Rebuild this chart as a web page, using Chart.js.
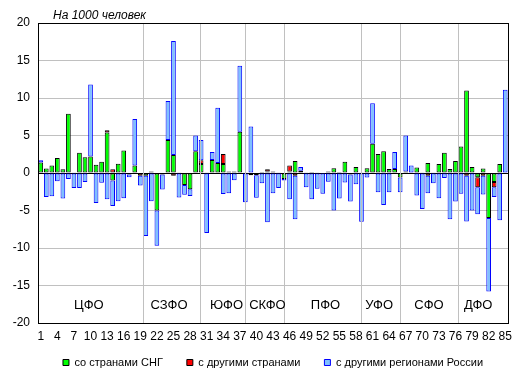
<!DOCTYPE html>
<html>
<head>
<meta charset="utf-8">
<script src="https://cdn.jsdelivr.net/npm/chart.js@4.4.0/dist/chart.umd.min.js"></script>
<style>
  html, body { margin: 0; padding: 0; background: #fff; }
</style>
</head>
<body>
<canvas id="migrChart" width="520" height="376"></canvas>
<script>
// Регионы 1..85 (номера по порядку)
const regions = Array.from({ length: 85 }, (_, i) => String(i + 1));

// Миграционный прирост на 1000 человек
const cisValues = [
  1.4, 0.6, 1.0, 2.0, 0.5, 7.9, 0.1, 2.7, 2.1, 2.2,
  1.1, 1.5, 5.4, -1.0, 1.25, 3.0, -0.2, 1.0, 0, -0.35,
  0.2, -5.0, -0.2, 4.4, 2.4, 0.1, -1.6, -2.15, 2.9, 1.2,
  0.1, 1.75, 1.35, 1.2, 0, 0.2, 5.5, 0.1, -0.3, -0.3,
  0.15, 0.2, 0.2, 0.1, -0.8, 0.2, 1.6, 0.3, 0.1, 0.15,
  0.1, 0, 0, 0.65, 0.15, 1.5, -0.2, 0.8, 0.1, 0.65,
  3.9, 2.55, 2.9, 0.55, 0.55, -0.6, 0.2, 0, 0.75, 0.1,
  1.35, 0.05, 1.2, 2.7, 0.55, 1.6, 3.55, 11.0, 0.8, -0.55,
  0.6, -6.0, -1.2, 1.2, 0
];
const otherValues = [
  0, 0, 0, 0, 0, 0, 0, 0, 0, 0,
  0, 0, 0.3, 0.5, 0, 0, 0, 0, -0.35, 0,
  0, 0, 0, 0, -0.35, 0, 0, 0, 0, 0.5,
  0, 0, 0, 1.35, 0.2, 0, 0, 0, 0, 0,
  0, 0.3, 0, 0, 0, 0.8, -0.35, 0, 0, 0,
  0, 0, 0.2, 0, 0, 0, 0, 0, 0, 0,
  0, 0, 0, 0, 0, 0, 0, 0, 0, 0,
  -0.35, 0, 0, 0, 0, 0, 0, -0.35, 0, -1.35,
  -0.35, 0, -0.7, 0, 0
];
const russiaValues = [
  0.3, -3.2, -3.1, -1.1, -3.4, -0.8, -2.0, -2.0, -1.2, 9.6,
  -4.0, -1.3, -3.5, -3.4, -3.75, -3.35, -0.35, 6.2, -1.3, -8.05,
  -3.75, -4.7, -2.0, 5.2, 15.2, -3.25, -1.3, -0.9, 2.1, 2.7,
  -8.0, 1.05, 7.35, -2.8, -2.7, -0.95, 8.8, -3.9, 6.2, -3.0,
  -1.35, -6.55, -2.7, -2.0, -0.2, -3.5, -5.8, 0.5, -1.9, -3.5,
  -2.1, -2.75, -1.15, -5.0, -3.4, -1.25, -3.6, -1.5, -6.5, -0.6,
  5.4, -2.55, -4.25, -2.55, 2.25, -1.95, 4.8, 1.0, -3.0, -4.8,
  -2.35, -1.35, -3.35, -0.65, -6.15, -3.8, -2.75, -6.1, -5.0, -3.6,
  -2.5, -9.8, -1.3, -6.3, 11.1
];

// Федеральные округа: границы (номер региона) и место подписи
const districts = ['ЦФО', 'СЗФО', 'ЮФО', 'СКФО', 'ПФО', 'УФО', 'СФО', 'ДФО'];
const districtBorders = [19.4, 29.8, 38.0, 45.0, 58.9, 66.0, 76.5];
const districtLabelAt = [9.7, 24.2, 34.6, 42.0, 52.5, 62.2, 71.2, 80.1];
const districtLabelValue = -17.6;

const baseFont = 'Liberation Sans, Arial, sans-serif';

// Рамка, разделители округов, подписи и заголовок
const decorPlugin = {
  id: 'decor',
  afterLayout(chart) {
    // ось X сжата ради легенды, но подписи должны помещаться в область отсечения
    chart.scales.x.bottom += 24;
  },
  afterDatasetsDraw(chart) {
    const { ctx, chartArea, scales } = chart;
    ctx.save();
    ctx.strokeStyle = '#c0c0c0';
    ctx.lineWidth = 1;
    districtBorders.forEach(b => {
      const x = Math.round(scales.x.getPixelForValue(b - 1)) + 0.5;
      ctx.beginPath();
      ctx.moveTo(x, chartArea.top);
      ctx.lineTo(x, chartArea.bottom);
      ctx.stroke();
    });

    ctx.fillStyle = '#000';
    ctx.font = '13px ' + baseFont;
    ctx.textAlign = 'center';
    ctx.textBaseline = 'middle';
    districts.forEach((name, i) => {
      ctx.fillText(name, scales.x.getPixelForValue(districtLabelAt[i] - 1),
        scales.y.getPixelForValue(districtLabelValue));
    });

    ctx.strokeStyle = '#000';
    ctx.strokeRect(Math.round(chartArea.left) + 0.5, Math.round(chartArea.top) + 0.5,
      Math.round(chartArea.right - chartArea.left), Math.round(chartArea.bottom - chartArea.top));

    ctx.font = 'italic 12px ' + baseFont;
    ctx.textAlign = 'left';
    ctx.fillText('На 1000 человек', 53, 16);
    ctx.restore();
  }
};

let ctx = document.getElementById('migrChart').getContext('2d');
let migrChart = new Chart(ctx, {
  type: 'bar',
  data: {
    labels: regions,
    datasets: [
      {
        label: 'со странами СНГ',
        data: cisValues,
        backgroundColor: '#00ff00',
        borderColor: '#000000',
        borderWidth: 1,
        borderSkipped: false
      },
      {
        label: 'с другими странами',
        data: otherValues,
        backgroundColor: '#ff0000',
        borderColor: '#000000',
        borderWidth: 1,
        borderSkipped: false
      },
      {
        label: 'с другими регионами России',
        data: russiaValues,
        backgroundColor: '#80c0ff',
        borderColor: '#0000ff',
        borderWidth: 1,
        borderSkipped: false
      }
    ]
  },
  options: {
    responsive: false,
    animation: false,
    barPercentage: 0.85,
    categoryPercentage: 1,
    layout: { padding: { top: 23, right: 12, left: 0, bottom: 0 } },
    scales: {
      x: {
        stacked: true,
        grid: { display: false, drawTicks: false },
        border: { display: false },
        ticks: {
          autoSkip: false,
          maxRotation: 0,
          padding: 6,
          color: '#000',
          font: { family: baseFont, size: 12 },
          callback: function (v, i) { return i % 3 === 0 ? this.getLabelForValue(v) : ''; }
        },
        afterFit(scale) { scale.height = 10; }
      },
      y: {
        stacked: true,
        min: -20,
        max: 20,
        grid: {
          drawTicks: false,
          color: c => (c.tick.value === 0 ? '#000000' : '#c0c0c0')
        },
        border: { display: false },
        ticks: {
          stepSize: 5,
          padding: 8,
          color: '#000',
          font: { family: baseFont, size: 12 }
        },
        afterFit(scale) { scale.width = 38; }
      }
    },
    plugins: {
      legend: {
        position: 'bottom',
        fullSize: false,
        maxHeight: 43,
        labels: {
          boxWidth: 6,
          boxHeight: 6,
          padding: 24,
          color: '#000',
          font: { family: baseFont, size: 11 }
        }
      },
      tooltip: { enabled: false }
    }
  },
  plugins: [decorPlugin]
});
</script>
</body>
</html>
